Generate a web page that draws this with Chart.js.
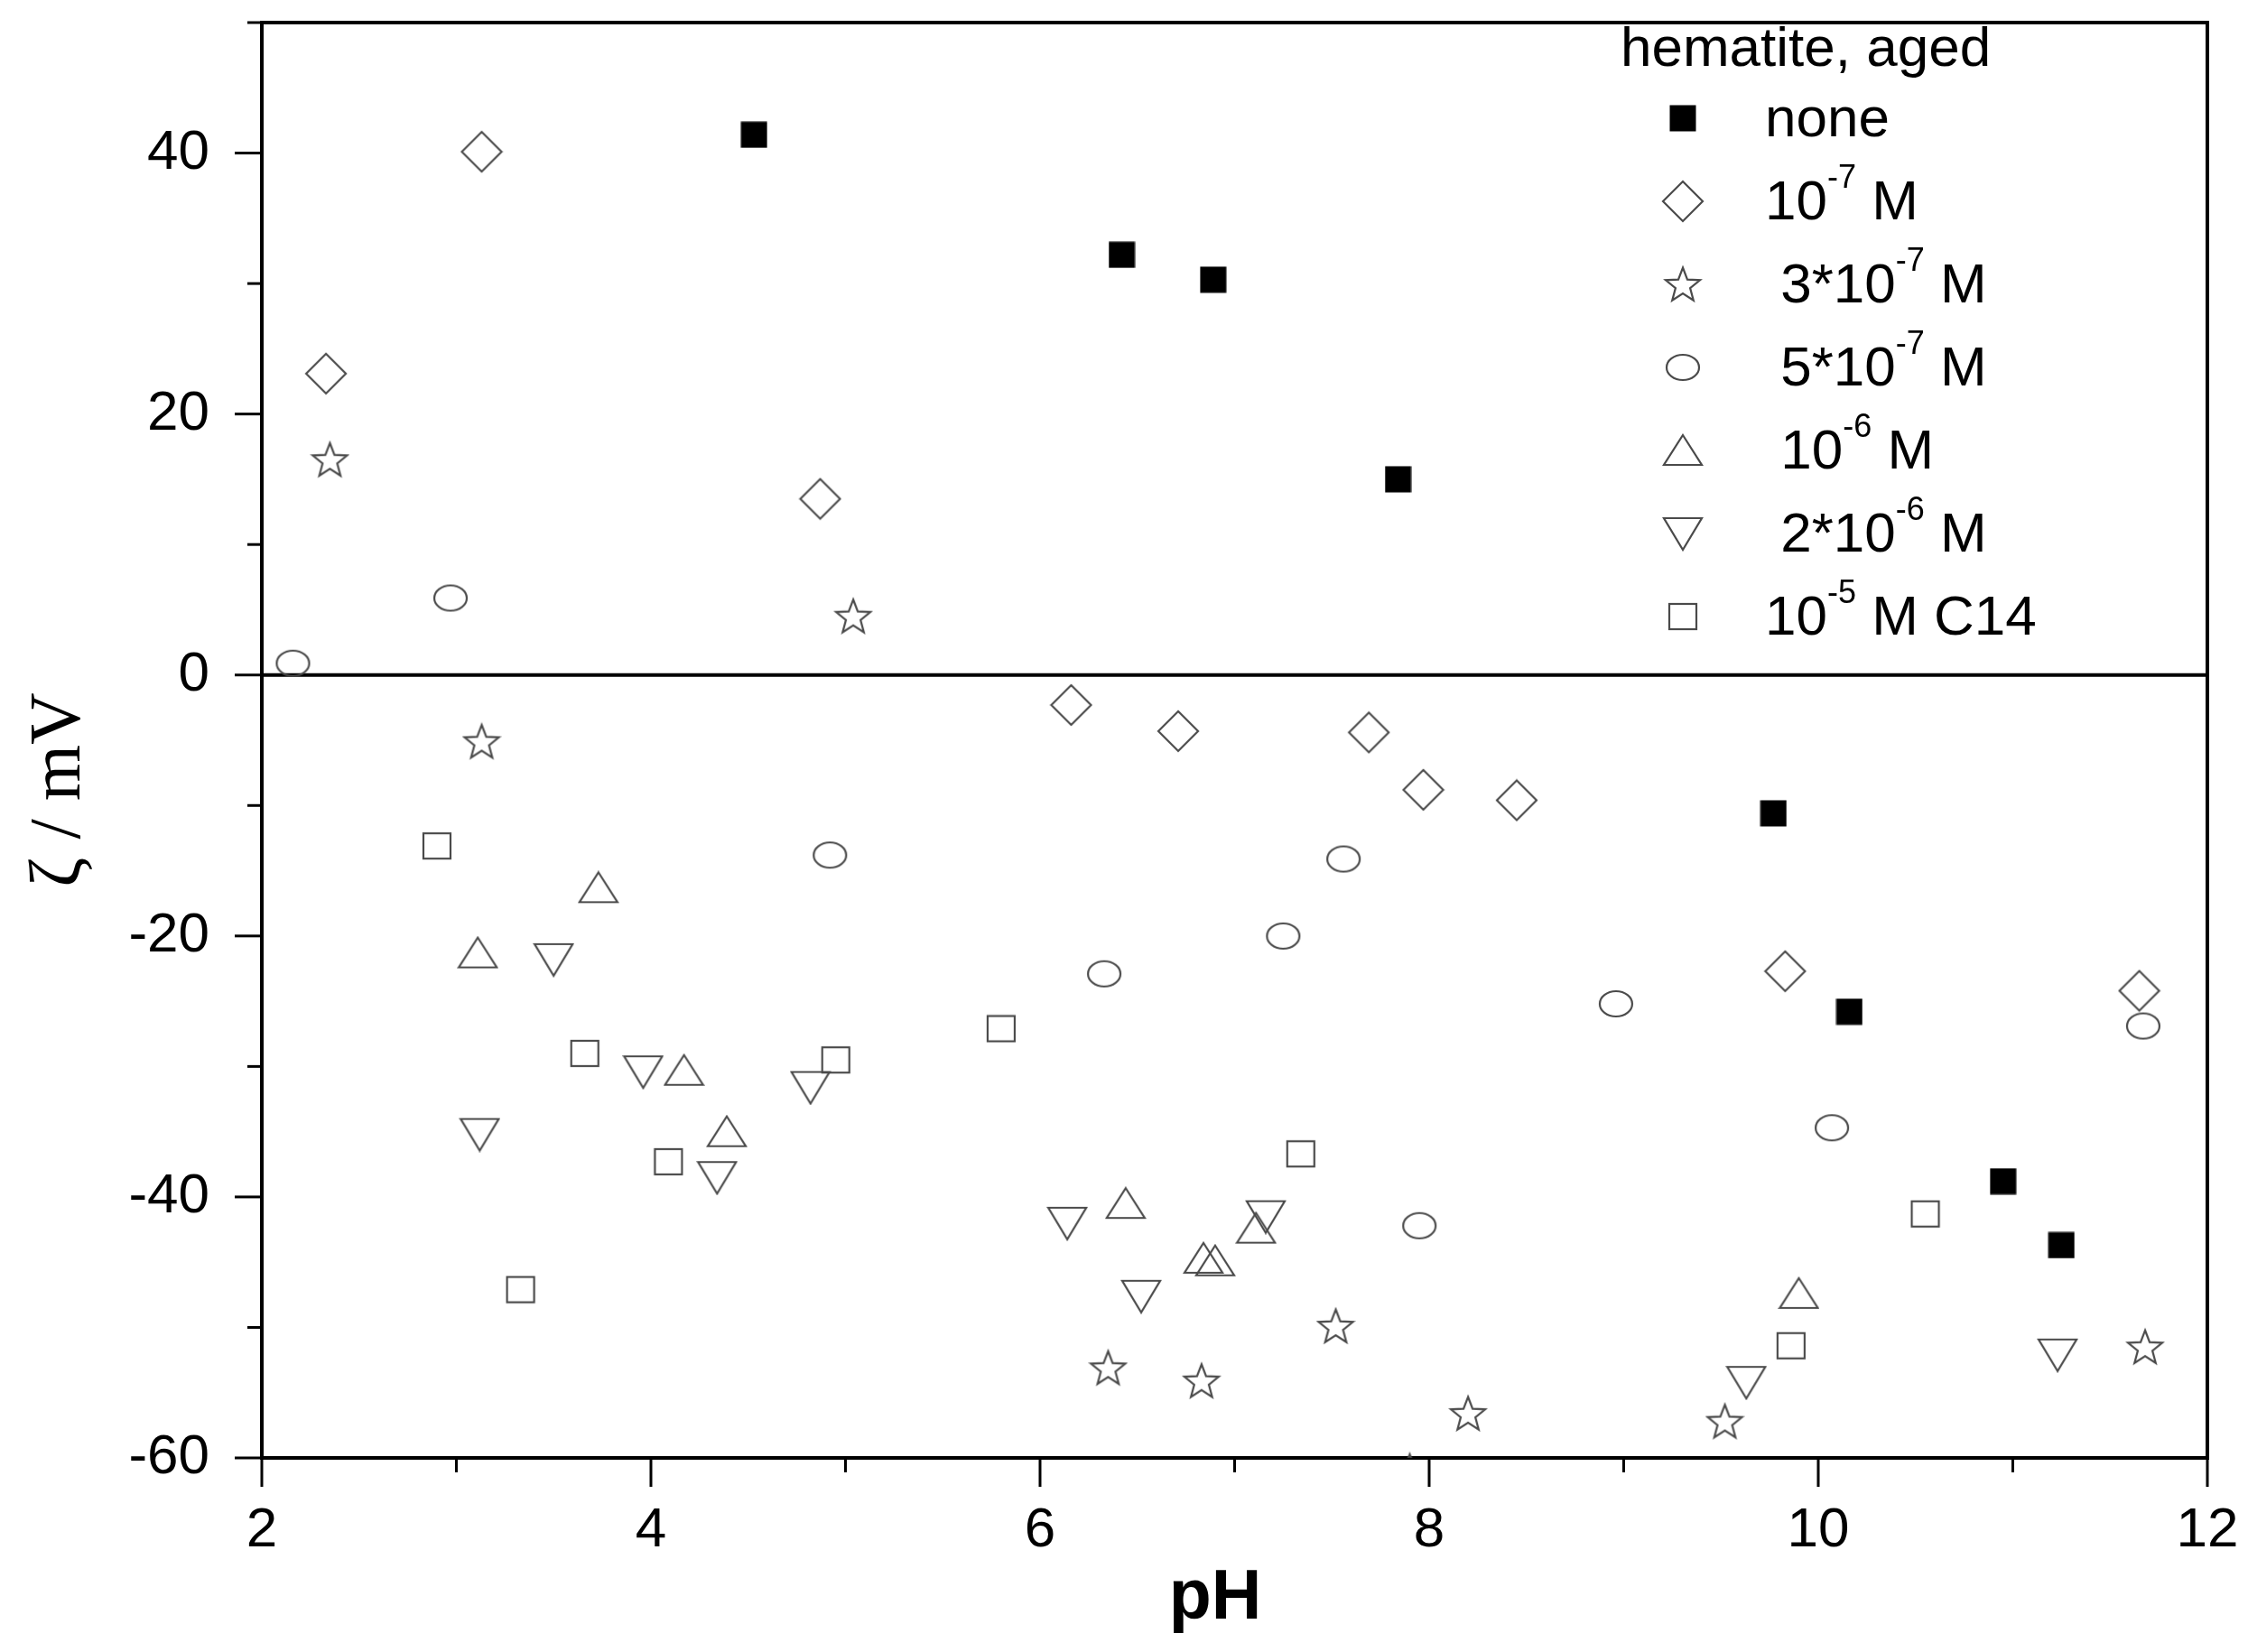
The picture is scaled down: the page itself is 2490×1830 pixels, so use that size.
<!DOCTYPE html>
<html>
<head>
<meta charset="utf-8">
<title>zeta potential of aged hematite</title>
<script src="https://cdn.jsdelivr.net/npm/chart.js@4.4.1/dist/chart.umd.min.js"></script>
<style>
  html, body { margin: 0; padding: 0; background: #fff; }
</style>
</head>
<body>
<canvas id="chart" width="2490" height="1830"></canvas>
<script>
// legend text (^ marks a superscript)
const legendTitle = "hematite, aged";
const seriesNames = ["none", "10^-7 M", " 3*10^-7 M", " 5*10^-7 M", " 10^-6 M", " 2*10^-6 M", "10^-5 M C14"];

// tick labels
const xTickLabels = [2, 4, 6, 8, 10, 12];
const yTickLabels = [-60, -40, -20, 0, 20, 40];

// pH / zeta (mV)
const phNone = [4.53, 6.42, 6.89, 7.84, 9.77, 10.16, 10.95, 11.25];
const zetaNone = [41.4, 32.2, 30.3, 15.0, -10.6, -25.8, -38.8, -43.7];

const ph1e7 = [2.33, 3.13, 4.87, 6.16, 6.71, 7.69, 7.97, 8.45, 9.83, 11.65];
const zeta1e7 = [23.1, 40.1, 13.5, -2.3, -4.3, -4.4, -8.8, -9.6, -22.7, -24.2];

const ph3e7 = [2.35, 3.13, 5.04, 6.35, 6.83, 7.52, 7.90, 8.20, 9.52, 11.68];
const zeta3e7 = [16.5, -5.1, 4.5, -53.1, -54.1, -49.9, -61.0, -56.6, -57.2, -51.5];

const ph5e7 = [2.16, 2.97, 4.92, 6.33, 7.25, 7.56, 7.95, 8.96, 10.07, 11.67];
const zeta5e7 = [0.9, 5.9, -13.8, -22.9, -20.0, -14.1, -42.2, -25.2, -34.7, -26.9];

const ph1e6 = [3.11, 3.73, 4.17, 4.39, 6.44, 6.84, 6.90, 7.11, 9.90];
const zeta1e6 = [-21.3, -16.3, -30.3, -35.0, -40.5, -44.7, -44.9, -42.4, -47.4];

const ph2e6 = [3.12, 3.50, 3.96, 4.34, 4.82, 6.14, 6.52, 7.16, 9.63, 11.23];
const zeta2e6 = [-35.2, -21.8, -30.4, -38.5, -31.6, -42.0, -47.6, -41.5, -54.2, -52.1];

const ph1e5 = [2.90, 3.33, 3.66, 4.09, 4.95, 5.80, 7.34, 9.86, 10.55];
const zeta1e5 = [-13.1, -47.1, -29.0, -37.3, -29.5, -27.1, -36.7, -51.4, -41.3];

const allPh = [phNone, ph1e7, ph3e7, ph5e7, ph1e6, ph2e6, ph1e5];
const allZeta = [zetaNone, zeta1e7, zeta3e7, zeta5e7, zeta1e6, zeta2e6, zeta1e5];

const OUTLINE = "#4a4a4a";
const SANS = '"Liberation Sans", Arial, sans-serif';

function makeMarker(w, h, draw) {
  const c = document.createElement("canvas");
  c.width = w;
  c.height = h;
  const g = c.getContext("2d");
  g.strokeStyle = OUTLINE;
  g.lineWidth = 2.2;
  g.lineJoin = "miter";
  draw(g, w, h);
  return c;
}

function poly(g, pts) {
  g.beginPath();
  g.moveTo(pts[0][0], pts[0][1]);
  pts.slice(1).forEach(p => g.lineTo(p[0], p[1]));
  g.closePath();
  g.stroke();
}

const markers = [
  makeMarker(30, 30, g => { g.fillStyle = "#000"; g.fillRect(0.5, 0.5, 29, 29); }),
  makeMarker(48, 48, g => poly(g, [[24, 2], [46, 24], [24, 46], [2, 24]])),
  makeMarker(44, 44, g => {
    const pts = [];
    for (let i = 0; i < 10; i++) {
      const r = i % 2 ? 8.5 : 20;
      const a = -Math.PI / 2 + i * Math.PI / 5;
      pts.push([22 + r * Math.cos(a), 23.5 + r * Math.sin(a)]);
    }
    poly(g, pts);
  }),
  makeMarker(40, 32, g => { g.beginPath(); g.ellipse(20, 16, 18, 14, 0, 0, Math.PI * 2); g.stroke(); }),
  makeMarker(46, 38, g => poly(g, [[23, 2], [44, 35], [2, 35]])),
  makeMarker(46, 40, g => poly(g, [[2, 3], [44, 3], [23, 38]])),
  makeMarker(34, 32, g => { g.strokeRect(2, 2, 30, 28); })
];

const datasets = seriesNames.map((name, i) => ({
  label: name,
  data: allPh[i].map((x, j) => ({ x: x, y: allZeta[i][j] })),
  pointStyle: markers[i],
  pointRadius: 20,
  pointHoverRadius: 20,
  showLine: false,
  clip: 0
}));

function line(ctx, x1, y1, x2, y2) {
  ctx.beginPath();
  ctx.moveTo(x1, y1);
  ctx.lineTo(x2, y2);
  ctx.stroke();
}

function drawRich(ctx, text, x, y) {
  const parts = text.split(/\^(\S+)/);
  parts.forEach((p, i) => {
    if (i % 2) {
      ctx.font = "36px " + SANS;
      ctx.fillText(p, x, y - 35);
    } else {
      ctx.font = "62px " + SANS;
      ctx.fillText(p, x, y);
    }
    x += ctx.measureText(p).width;
  });
}

const framePlugin = {
  id: "frame",
  beforeDatasetsDraw(chart) {
    const { ctx, chartArea: a, scales } = chart;
    const xs = scales.x, ys = scales.y;
    ctx.save();
    ctx.strokeStyle = "#000";
    ctx.lineWidth = 4;
    const y0 = ys.getPixelForValue(0);
    line(ctx, a.left, y0, a.right, y0);
    ctx.strokeRect(a.left, a.top, a.right - a.left, a.bottom - a.top);

    ctx.lineWidth = 3;
    ys.ticks.forEach(t => {
      const p = ys.getPixelForValue(t.value);
      const len = yTickLabels.includes(t.value) ? 30 : 16;
      line(ctx, a.left - len, p, a.left, p);
    });
    xs.ticks.forEach(t => {
      const p = xs.getPixelForValue(t.value);
      const len = xTickLabels.includes(t.value) ? 32 : 16;
      line(ctx, p, a.bottom, p, a.bottom + len);
    });
    ctx.restore();
  },
  afterDraw(chart) {
    const ctx = chart.ctx;
    ctx.save();
    ctx.fillStyle = "#000";
    ctx.textBaseline = "alphabetic";
    ctx.textAlign = "left";

    // legend
    ctx.font = "62px " + SANS;
    ctx.fillText(legendTitle, 1795, 73);
    chart.data.datasets.forEach((ds, i) => {
      const base = 151 + 92 * i;
      const m = ds.pointStyle;
      ctx.drawImage(m, 1864 - m.width / 2, base - 20 - m.height / 2);
      drawRich(ctx, ds.label, 1955, base);
    });

    // axis titles
    ctx.font = "bold 77px " + SANS;
    ctx.textAlign = "center";
    ctx.fillText("pH", 1346, 1793);

    ctx.translate(88, 875);
    ctx.rotate(-Math.PI / 2);
    ctx.font = '80px "Liberation Serif", "Times New Roman", serif';
    ctx.fillText("\u03B6 / mV", 0, 0);
    ctx.restore();
  }
};

new Chart(document.getElementById("chart"), {
  type: "scatter",
  data: { datasets: datasets },
  options: {
    responsive: false,
    animation: false,
    events: [],
    layout: { padding: { top: 25, right: 45, left: 0, bottom: 0 } },
    plugins: {
      legend: { display: false },
      tooltip: { enabled: false }
    },
    scales: {
      x: {
        type: "linear",
        min: 2,
        max: 12,
        grid: { display: false, drawTicks: false },
        border: { display: false },
        ticks: {
          stepSize: 1,
          autoSkip: false,
          maxRotation: 0,
          padding: 44,
          color: "#000",
          font: { family: SANS, size: 62 },
          callback: v => xTickLabels.includes(v) ? String(v) : ""
        },
        afterFit: s => { s.height = 215; s.paddingLeft = 0; s.paddingRight = 0; }
      },
      y: {
        min: -60,
        max: 50,
        grid: { display: false, drawTicks: false },
        border: { display: false },
        ticks: {
          stepSize: 10,
          autoSkip: false,
          padding: 58,
          color: "#000",
          font: { family: SANS, size: 62 },
          callback: v => yTickLabels.includes(v) ? String(v) : ""
        },
        afterFit: s => { s.width = 290; s.paddingTop = 0; s.paddingBottom = 0; }
      }
    }
  },
  plugins: [framePlugin]
});
</script>
</body>
</html>
